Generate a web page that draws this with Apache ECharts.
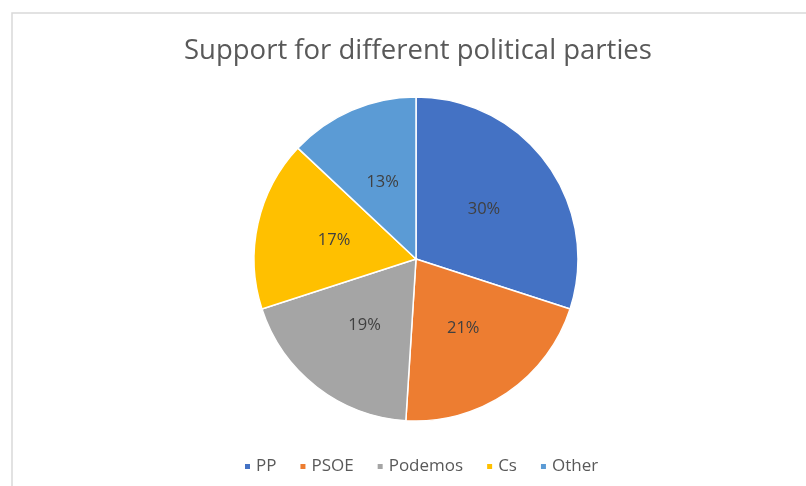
<!DOCTYPE html>
<html>
<head>
<meta charset="utf-8">
<script src="https://cdn.jsdelivr.net/npm/echarts@6/dist/echarts.min.js"></script>
<style>
  html, body { margin: 0; padding: 0; background: #fff; }
  #chart { width: 806px; height: 486px; }
</style>
</head>
<body>
<div id="chart"></div>
<script>
// data
var parties = ["PP", "PSOE", "Podemos", "Cs", "Other"];
var support = [30, 21, 19, 17, 13];
var colors = ["#4472C4", "#ED7D31", "#A5A5A5", "#FFC000", "#5B9BD5"];

var chart = echarts.init(document.getElementById("chart"));

var pieData = parties.map(function (name, i) {
    return { name: name, value: support[i], itemStyle: { color: colors[i] } };
});

var option = {
    animation: false,
    backgroundColor: "#fff",
    title: {
        text: "Support for different political parties",
        left: 179,
        top: 32,
        textStyle: {
            fontFamily: "Open Sans",
            fontSize: 27.5,
            fontWeight: "normal",
            color: "#595959"
        }
    },
    // chart-area frame like the spreadsheet screenshot
    graphic: [{
        type: "rect",
        shape: { x: 12, y: 13, width: 820, height: 500 },
        style: { fill: "none", stroke: "#d9d9d9", lineWidth: 1.5 },
        silent: true
    }],
    legend: {
        top: 453,
        left: 238,
        icon: "rect",
        itemWidth: 7,
        itemHeight: 7,
        itemGap: 22,
        textStyle: {
            fontFamily: "Open Sans",
            fontSize: 17,
            color: "#595959"
        },
        data: parties
    },
    series: [{
        type: "pie",
        center: [416, 259],
        radius: 162,
        startAngle: 90,
        clockwise: true,
        data: pieData,
        itemStyle: { borderColor: "#fff", borderWidth: 1.5 },
        label: {
            position: "inner",
            formatter: "{d}%",
            fontFamily: "Open Sans",
            fontSize: 16.5,
            color: "#404040"
        },
        labelLine: { show: false },
        emphasis: { disabled: true }
    }]
};

chart.setOption(option);
</script>
</body>
</html>
